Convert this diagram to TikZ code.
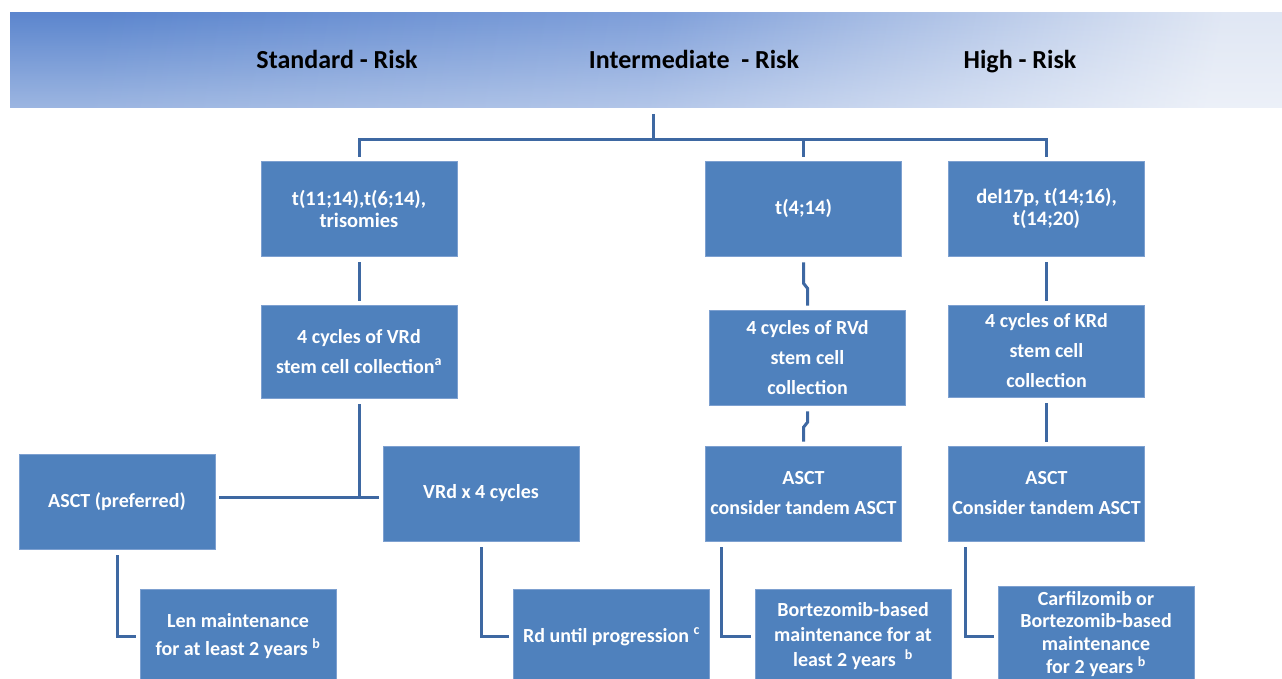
\documentclass[tikz,border=0pt]{standalone}
\usepackage{fontspec}
\setmainfont{Carlito}
\usetikzlibrary{fadings}
\definecolor{boxblue}{RGB}{79,129,189}
\definecolor{boxedge}{RGB}{125,160,208}
\definecolor{linkblue}{RGB}{62,104,162}
\definecolor{hdrdark}{RGB}{92,134,206}
\definecolor{hdrmid}{RGB}{128,160,218}
\definecolor{hdrlight}{RGB}{224,231,244}

\begin{document}
\begin{tikzpicture}
  [x=1pt, y=-1pt,
   box node/.style={rectangle, fill=boxblue, draw=boxedge, line width=0.6pt,
     minimum width=196pt, minimum height=95pt, inner sep=2pt, align=center,
     text=white, font=\fontsize{20}{30}\selectfont\bfseries},
   close/.style={font=\fontsize{20.5}{22}\selectfont\bfseries},
   tight/.style={font=\fontsize{20}{25}\selectfont\bfseries},
   tighter/.style={font=\fontsize{20}{22.5}\selectfont\bfseries},
   risk/.style={font=\fontsize{26}{30}\selectfont\bfseries, text=black, anchor=base},
   link/.style={draw=linkblue, line width=3pt, shorten <=6pt, shorten >=4pt}]
  \path[use as bounding box, clip] (0,0) rectangle (1282,679);

  % header band
  \shade[left color=hdrdark, right color=hdrlight, middle color=hdrmid, shading angle=80]
    (10,13) rectangle (1300,108);
  \fill[white, path fading=north, fill opacity=0.4] (10,13) rectangle (1300,108);
  \node (hdr) at (646,60) [minimum width=1272pt, minimum height=95pt] {};
  \node[risk] (r1) at (337,69) {Standard - Risk};
  \node[risk] (r2) at (694,69) {Intermediate\ \ - Risk};
  \node[risk] (r3) at (1020,69) {High - Risk};

  % first row
  \node[box node, close] (s1) at (359,208.5) {t(11;14),t(6;14),\\trisomies};
  \node[box node, close] (i1) at (803.5,208.5) {t(4;14)};
  \node[box node, close] (h1) at (1046.5,208.5) {del17p, t(14;16),\\t(14;20)};

  % second row
  \node[box node, minimum height=93pt] (s2) at (359,351.5) {4 cycles of VRd\\stem cell collection\textsuperscript{a}};
  \node[box node] (i2) at (807.5,357.5) {4 cycles of RVd\\stem cell\\collection};
  \node[box node, minimum height=92pt] (h2) at (1046.5,351) {4 cycles of KRd\\stem cell\\collection};

  % third row
  \node[box node] (s3) at (117,501.5) {ASCT (preferred)};
  \node[box node] (s4) at (481,493.5) {VRd x 4 cycles};
  \node[box node] (i3) at (803.5,493.5) {ASCT\\consider tandem ASCT};
  \node[box node] (h3) at (1046.5,493.5) {ASCT\\Consider tandem ASCT};

  % fourth row
  \node[box node, font=\fontsize{20}{28}\selectfont\bfseries] (s5) at (238,636.5) {Len maintenance\\for at least 2 years \textsuperscript{b}};
  \node[box node] (s6) at (611.5,636.5) {Rd until progression \textsuperscript{c}};
  \node[box node, tight] (i4) at (853,636.5) {Bortezomib-based\\maintenance for at\\least 2 years\ \ \textsuperscript{b}};
  \node[box node, tighter] (h4) at (1096,634) {Carfilzomib or\\Bortezomib-based\\maintenance\\[1pt]for 2 years \textsuperscript{b}};

  % connectors
  \coordinate (split) at (653,140);
  \draw[link, shorten <=0pt, shorten >=0pt] (653,114) -- (split);
  \draw[link, shorten <=0pt] (split) -| (s1);
  \draw[link, shorten <=0pt] (split) -| (i1);
  \draw[link, shorten <=0pt] (split) -| (h1);

  \path (s1) [-, link] edge (s2);
  \path (h1) [-, link] edge (h2);
  \path (h2) [-, link] edge (h3);
  \draw[link] (i1.south) -- ++(0,27) -- ++(4,5) -- (i2.north);
  \draw[link] (i2.south) -- ++(0,17) -- ++(-4,5) -- (i3.north);

  \coordinate (tee) at (359,497);
  \draw[link, shorten >=0pt] (s2) -- (tee);
  \draw[link, shorten <=0pt] (tee) -- (s3.east |- tee);
  \draw[link, shorten <=0pt] (tee) -- (s4.west |- tee);

  \draw[link] (s3) |- (s5);
  \draw[link] (s4) |- (s6);
  \draw[link] ([xshift=16pt]i3.south west) |- (i4);
  \draw[link] ([xshift=17pt]h3.south west) |- (h4.west |- i4);
\end{tikzpicture}
\end{document}
